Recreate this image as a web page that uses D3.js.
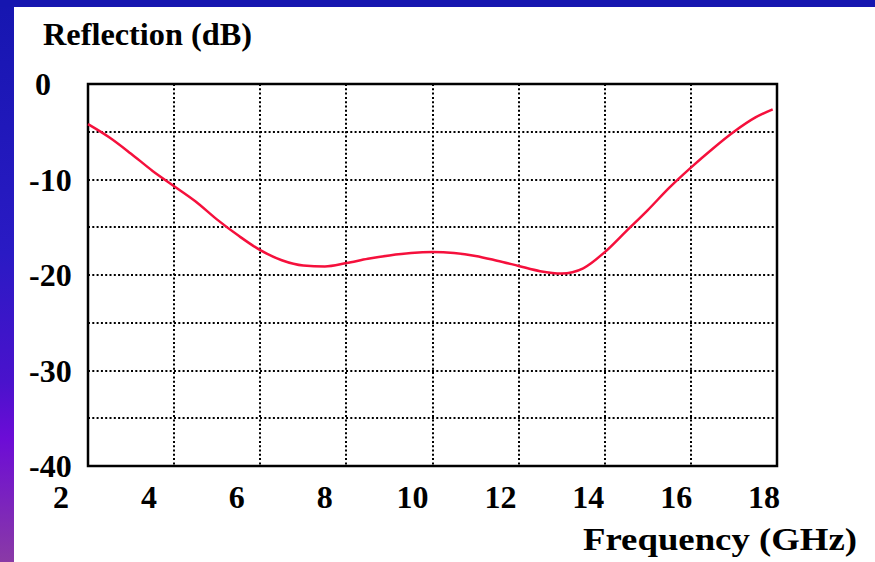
<!DOCTYPE html>
<html>
<head>
<meta charset="utf-8">
<script src="https://cdn.jsdelivr.net/npm/d3@7"></script>
<style>
  body { margin: 0; background: #fff; }
  svg text { font-family: "Liberation Serif", "Times New Roman", serif; font-weight: bold; fill: #000; }
</style>
</head>
<body>
<div id="chart"></div>
<script>
// reflection curve
const freq = [2.0, 2.5, 3.0, 3.5, 4.0, 4.5, 5.0, 5.5, 6.0, 6.5, 7.0, 7.5, 8.0, 8.5, 9.0, 9.5,
              10.0, 10.5, 11.0, 11.5, 12.0, 12.5, 13.0, 13.5, 14.0, 14.5, 15.0, 15.5, 16.0,
              16.5, 17.0, 17.5, 17.9];
const refl = [-4.2, -5.6, -7.3, -9.1, -10.7, -12.3, -14.2, -15.9, -17.4, -18.45, -19.0, -19.1,
              -18.75, -18.3, -17.95, -17.7, -17.6, -17.7, -18.0, -18.5, -19.05, -19.6, -19.85,
              -19.3, -17.6, -15.4, -13.2, -10.85, -8.75, -6.8, -5.0, -3.5, -2.65];
const xTicks = [2, 4, 6, 8, 10, 12, 14, 16, 18];
const yTicks = [0, -10, -20, -30, -40];
const yGrid = [-5, -10, -15, -20, -25, -30, -35];
const xGrid = [4, 6, 8, 10, 12, 14, 16];

const width = 875, height = 562;
const svg = d3.select("#chart").append("svg")
    .attr("width", width)
    .attr("height", height);

// slide decoration: blue bars top and left
const grad = svg.append("defs").append("linearGradient")
    .attr("id", "sidebar")
    .attr("x1", 0).attr("y1", 0).attr("x2", 0).attr("y2", 1);
grad.selectAll("stop")
  .data([[0, "#1616b0"], [0.45, "#2a1ac4"], [0.68, "#4a12cc"], [0.78, "#6c0cd6"], [1, "#8a3aa6"]])
  .join("stop")
    .attr("offset", d => d[0])
    .attr("stop-color", d => d[1]);

svg.append("rect").attr("x", 0).attr("y", 0).attr("width", 14).attr("height", height)
    .attr("fill", "url(#sidebar)");
svg.append("rect").attr("x", 0).attr("y", 0).attr("width", width).attr("height", 7)
    .attr("fill", "#1616b0");

// scales
const x = d3.scaleLinear().domain([2, 18]).range([88, 777]);
const y = d3.scaleLinear().domain([-40, 0]).range([466, 84]);
// tick labels in the original sit a bit left of the grid
const xLab = d3.scaleLinear().domain([2, 18]).range([61, 764]);

// grid (rounded so the dots stay crisp)
const grid = svg.append("g")
    .attr("stroke", "#000")
    .attr("stroke-width", 2)
    .attr("stroke-dasharray", "2,2.3");
grid.selectAll(".hg")
  .data(yGrid)
  .join("line")
    .attr("class", "hg")
    .attr("x1", x(2)).attr("x2", x(18))
    .attr("y1", d => Math.round(y(d))).attr("y2", d => Math.round(y(d)));
grid.selectAll(".vg")
  .data(xGrid)
  .join("line")
    .attr("class", "vg")
    .attr("x1", d => Math.round(x(d))).attr("x2", d => Math.round(x(d)))
    .attr("y1", y(0)).attr("y2", y(-40));

// frame
svg.append("rect")
    .attr("x", x(2)).attr("y", y(0))
    .attr("width", x(18) - x(2)).attr("height", y(-40) - y(0))
    .attr("fill", "none")
    .attr("stroke", "#000")
    .attr("stroke-width", 2.5);

// curve
const line = d3.line()
    .x(d => x(d[0]))
    .y(d => y(d[1]))
    .curve(d3.curveMonotoneX);
svg.append("path")
    .datum(freq.map((f, i) => [f, refl[i]]))
    .attr("d", line)
    .attr("fill", "none")
    .attr("stroke", "#f5103c")
    .attr("stroke-width", 2.5);

// y labels
svg.selectAll(".ylab")
  .data(yTicks)
  .join("text")
    .attr("class", "ylab")
    .attr("x", d => d === 0 ? 35 : 29)
    .attr("y", d => y(d) + 11)
    .style("font-size", "32px")
    .text(d => d);

// x labels
svg.selectAll(".xlab")
  .data(xTicks)
  .join("text")
    .attr("class", "xlab")
    .attr("x", d => xLab(d))
    .attr("y", 508)
    .attr("text-anchor", "middle")
    .style("font-size", "32px")
    .text(d => d);

// axis titles
svg.append("text")
    .attr("x", 43).attr("y", 45)
    .style("font-size", "32px")
    .attr("textLength", 209)
    .attr("lengthAdjust", "spacingAndGlyphs")
    .text("Reflection (dB)");
svg.append("text")
    .attr("x", 583).attr("y", 550)
    .style("font-size", "32px")
    .attr("textLength", 274)
    .attr("lengthAdjust", "spacingAndGlyphs")
    .text("Frequency (GHz)");
</script>
</body>
</html>
